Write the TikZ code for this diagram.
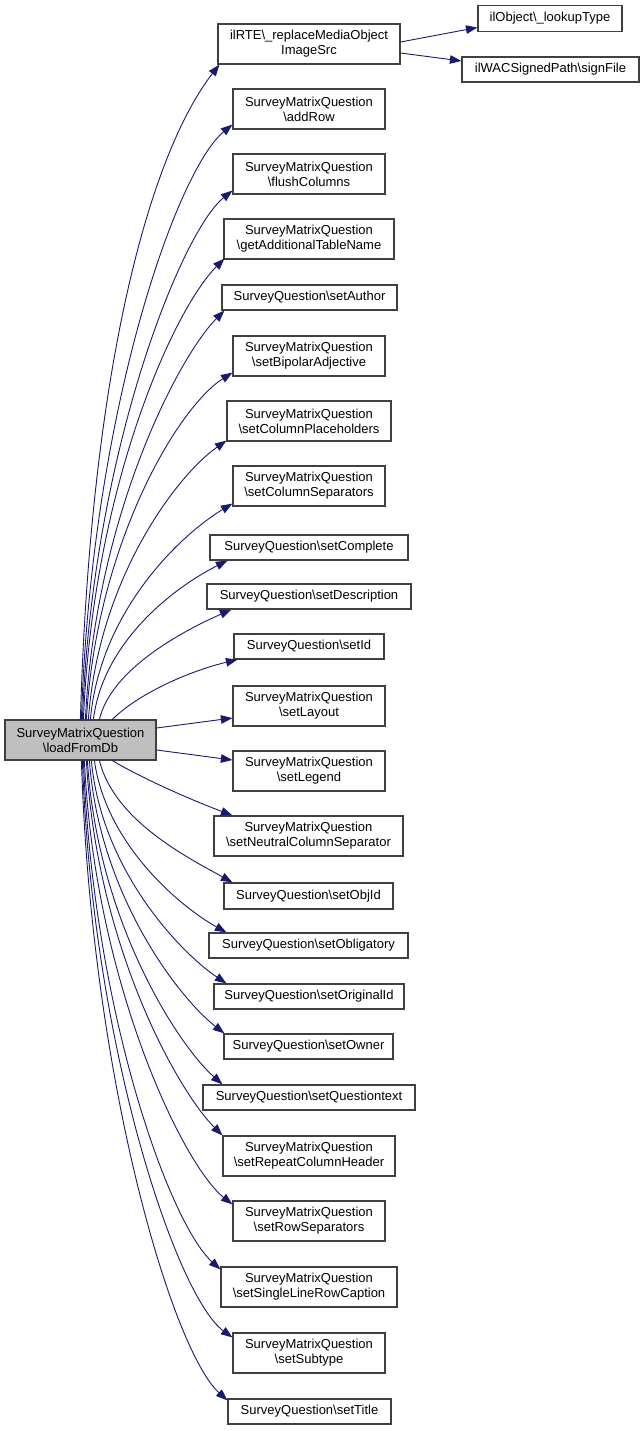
\documentclass[tikz,border=0pt]{standalone}
\usepackage{fontspec}
\setmainfont{Liberation Sans}
\usetikzlibrary{arrows.meta}
\definecolor{edgeblue}{HTML}{191970}
\definecolor{rootfill}{HTML}{BFBFBF}
\begin{document}
\begin{tikzpicture}[x=1pt,y=1pt,
  box/.style={draw=black!75, line width=1.2pt, fill=white, inner sep=0pt, align=center,
    font=\fontsize{13}{15}\selectfont, minimum height=40pt},
  one/.style={minimum height=25pt},
  edge/.style={draw=edgeblue, line width=0.9pt, -{Triangle[length=11.5pt,width=8.5pt]}}]
\useasboundingbox (0,0) rectangle (644,-1431);
\newcommand{\bs}{\textbackslash}
% nodes
\node[box, fill=rootfill, minimum width=151pt] (root) at (80.5,-740) {SurveyMatrixQuestion\\\bs loadFromDb};
\node[box, minimum width=182pt] (iirte) at (309,-44) {ilRTE\bs\_replaceMediaObject\\ImageSrc};
\node[box, one, minimum width=144pt, minimum height=26pt] (lookup) at (550,-18.5) {ilObject\bs\_lookupType};
\node[box, one, minimum width=177pt] (signfile) at (550.5,-69.5) {ilWACSignedPath\bs signFile};
\node[box, minimum width=152pt] (addrow) at (309,-109) {SurveyMatrixQuestion\\\bs addRow};
\node[box, minimum width=152pt] (flush) at (309,-174) {SurveyMatrixQuestion\\\bs flushColumns};
\node[box, minimum width=170pt] (getadd) at (309,-239) {SurveyMatrixQuestion\\\bs getAdditionalTableName};
\node[box, one, minimum width=175pt] (author) at (309.5,-297.5) {SurveyQuestion\bs setAuthor};
\node[box, minimum width=152pt] (bipolar) at (309,-356) {SurveyMatrixQuestion\\\bs setBipolarAdjective};
\node[box, minimum width=164pt] (colph) at (309,-421) {SurveyMatrixQuestion\\\bs setColumnPlaceholders};
\node[box, minimum width=152pt] (colsep) at (309,-486) {SurveyMatrixQuestion\\\bs setColumnSeparators};
\node[box, one, minimum width=198pt] (complete) at (309,-547.5) {SurveyQuestion\bs setComplete};
\node[box, one, minimum width=204pt] (desc) at (309,-596.5) {SurveyQuestion\bs setDescription};
\node[box, one, minimum width=150pt] (setid) at (309,-646.5) {SurveyQuestion\bs setId};
\node[box, minimum width=152pt] (layout) at (309,-706) {SurveyMatrixQuestion\\\bs setLayout};
\node[box, minimum width=152pt] (legend) at (309,-771) {SurveyMatrixQuestion\\\bs setLegend};
\node[box, minimum width=189pt] (neutral) at (308.5,-836) {SurveyMatrixQuestion\\\bs setNeutralColumnSeparator};
\node[box, one, minimum width=169pt, minimum height=26pt] (objid) at (308.5,-896) {SurveyQuestion\bs setObjId};
\node[box, one, minimum width=199pt] (oblig) at (308.5,-945.5) {SurveyQuestion\bs setObligatory};
\node[box, one, minimum width=190pt] (origid) at (309,-996.5) {SurveyQuestion\bs setOriginalId};
\node[box, one, minimum width=169pt] (owner) at (308.5,-1046.5) {SurveyQuestion\bs setOwner};
\node[box, one, minimum width=212pt] (qtext) at (309,-1097.5) {SurveyQuestion\bs setQuestiontext};
\node[box, minimum width=172pt] (repeat) at (309,-1156) {SurveyMatrixQuestion\\\bs setRepeatColumnHeader};
\node[box, minimum width=152pt] (rowsep) at (309,-1221) {SurveyMatrixQuestion\\\bs setRowSeparators};
\node[box, minimum width=176pt] (single) at (309,-1287) {SurveyMatrixQuestion\\\bs setSingleLineRowCaption};
\node[box, minimum width=152pt] (subtype) at (309,-1353) {SurveyMatrixQuestion\\\bs setSubtype};
\node[box, one, minimum width=163pt] (title) at (309.5,-1411.5) {SurveyQuestion\bs setTitle};
% edges from ilRTE
\draw[edge] ([yshift=2pt]iirte.east) -- ([yshift=-9pt]lookup.west);
\draw[edge] ([yshift=-9pt]iirte.east) -- ([yshift=8.5pt]signfile.west);
% upper edges
\draw[edge] ([xshift=76pt]root.north west) .. controls +(10,350) and +(-70,-90) .. ([xshift=2pt]iirte.south west);
\draw[edge] ([xshift=77pt]root.north west) .. controls +(10,310) and +(-55,-45) .. ([yshift=5pt]addrow.south west);
\draw[edge] ([xshift=78pt]root.north west) .. controls +(10,270) and +(-50,-40) .. ([yshift=4pt]flush.south west);
\draw[edge] ([xshift=79pt]root.north west) .. controls +(10,235) and +(-50,-50) .. ([xshift=1pt,yshift=1pt]getadd.south west);
\draw[edge] ([xshift=81pt]root.north west) .. controls +(10,205) and +(-45,-45) .. ([xshift=3pt]author.south west);
\draw[edge] ([xshift=82pt]root.north west) .. controls +(10,175) and +(-55,-35) .. ([yshift=4pt]bipolar.south west);
\draw[edge] ([xshift=84pt]root.north west) .. controls +(10,140) and +(-50,-35) .. ([yshift=1pt]colph.south west);
\draw[edge] ([xshift=86pt]root.north west) .. controls +(10,110) and +(-50,-30) .. ([yshift=3pt]colsep.south west);
\draw[edge] ([xshift=89pt]root.north west) .. controls +(10,80) and +(-50,-25) .. ([xshift=18pt]complete.south west);
\draw[edge] ([xshift=95pt]root.north west) .. controls +(12,50) and +(-50,-22) .. ([xshift=25pt]desc.south west);
\draw[edge] ([xshift=108pt]root.north west) .. controls +(25,25) and +(-50,-12) .. ([xshift=4pt]setid.south west);
\draw[edge] ([yshift=12pt]root.east) -- ([yshift=-12pt]layout.west);
\draw[edge] ([yshift=-10pt]root.east) -- ([yshift=11pt]legend.west);
% lower edges
\draw[edge] ([xshift=108pt]root.south west) .. controls +(30,-18) and +(-40,15) .. ([xshift=19pt]neutral.north west);
\draw[edge] ([xshift=95pt]root.south west) .. controls +(15,-60) and +(-45,25) .. ([xshift=9pt]objid.north west);
\draw[edge] ([xshift=90pt]root.south west) .. controls +(12,-85) and +(-45,25) .. ([xshift=18pt]oblig.north west);
\draw[edge] ([xshift=87pt]root.south west) .. controls +(10,-110) and +(-45,30) .. ([xshift=13pt]origid.north west);
\draw[edge] ([xshift=85pt]root.south west) .. controls +(10,-135) and +(-45,35) .. ([xshift=1pt]owner.north west);
\draw[edge] ([xshift=83pt]root.south west) .. controls +(10,-160) and +(-45,40) .. ([xshift=20pt]qtext.north west);
\draw[edge] ([xshift=82pt]root.south west) .. controls +(10,-185) and +(-45,45) .. (repeat.north west);
\draw[edge] ([xshift=80pt]root.south west) .. controls +(10,-220) and +(-50,40) .. ([yshift=-4pt]rowsep.north west);
\draw[edge] ([xshift=79pt]root.south west) .. controls +(10,-255) and +(-50,45) .. ([yshift=-3pt]single.north west);
\draw[edge] ([xshift=78pt]root.south west) .. controls +(10,-290) and +(-55,40) .. ([yshift=-5pt]subtype.north west);
\draw[edge] ([xshift=77pt]root.south west) .. controls +(10,-320) and +(-55,50) .. ([yshift=-2pt]title.north west);
\end{tikzpicture}
\end{document}
